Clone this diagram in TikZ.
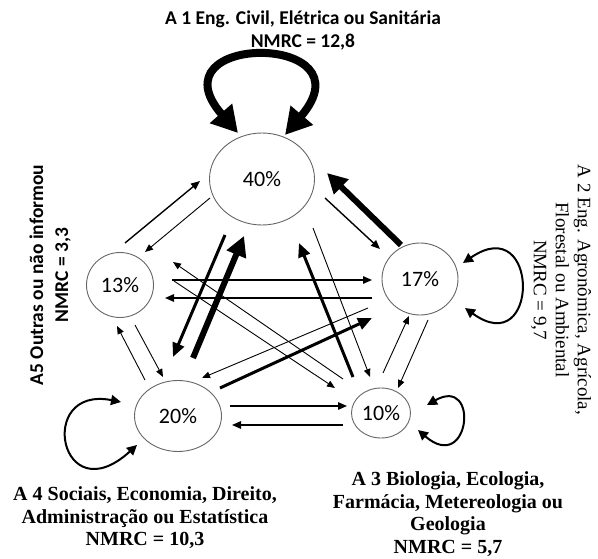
\documentclass[tikz,border=0pt]{standalone}
\usepackage{fontspec}
\usepackage{tikz}
\usetikzlibrary{shapes.geometric, arrows.meta}
\newfontfamily\carlito{Carlito}
\newfontfamily\libserif{Liberation Serif}

\tikzstyle{pct} = [ellipse, draw=black!60, line width=0.9pt, inner sep=0pt, font=\carlito\fontsize{22}{24}\selectfont]
\tikzstyle{areasans} = [align=center, inner sep=0pt, font=\carlito\bfseries\fontsize{19.5}{23}\selectfont]
\tikzstyle{areaserif} = [align=center, inner sep=0pt, font=\libserif\fontsize{19}{22}\selectfont]
\tikzstyle{areaserifb} = [align=center, inner sep=0pt, font=\libserif\bfseries\fontsize{20}{22.5}\selectfont]
\tikzstyle{arrowthin} = [line width=0.9pt, -{Triangle[length=8pt,width=6.5pt]}]
\tikzstyle{arrowmed} = [line width=1.4pt, -{Triangle[length=9pt,width=7.5pt]}]
\tikzstyle{arrowthick} = [line width=3pt, -{Triangle[length=14pt,width=12pt]}]
\tikzstyle{arrowheavy} = [line width=6pt, -{Triangle[length=20pt,width=20pt]}]
\tikzstyle{loopsmall} = [line width=2pt, {Triangle[length=10pt,width=10pt]}-{Triangle[length=10pt,width=10pt]}]
\tikzstyle{loopbig} = [line width=8pt, {Triangle[length=26pt,width=28pt]}-{Triangle[length=26pt,width=28pt]}]

\begin{document}
\begin{tikzpicture}[x=1pt, y=-1pt]
	\useasboundingbox (0,0) rectangle (598,559);

	% areas
	\node (n40) [pct, minimum width=105pt, minimum height=92pt] at (262,179) {40\%};
	\node (n13) [pct, minimum width=67pt, minimum height=65pt] at (120,285) {13\%};
	\node (n17) [pct, minimum width=76pt, minimum height=72pt] at (420,279) {17\%};
	\node (n20) [pct, minimum width=87pt, minimum height=71pt] at (178,416) {20\%};
	\node (n10) [pct, minimum width=59pt, minimum height=50pt] at (381,413) {10\%};

	% captions
	\node (a1) [areasans] at (303,30) {A 1 Eng. Civil, Elétrica ou Sanitária\\NMRC = 12,8};
	\node (a5) [areasans, font=\carlito\bfseries\fontsize{19.5}{25}\selectfont, rotate=90] at (50,275) {A5 Outras ou não informou\\NMRC = 3,3};
	\node (a2) [areaserif, rotate=-90] at (561,290) {A 2 Eng. Agronômica, Agrícola,\\Florestal ou Ambiental\\NMRC = 9,7};
	\node (a4) [areaserifb] at (145,518) {A 4 Sociais, Economia, Direito,\\Administração ou Estatística\\NMRC = 10,3};
	\node (a3) [areaserifb] at (448,514) {A 3 Biologia, Ecologia,\\Farmácia, Metereologia ou\\Geologia\\NMRC = 5,7};

	% self loops
	\draw [loopbig] ([shift={(-24,-46)}]n40.center) .. controls +(-88,-101) and +(88,-103) .. ([shift={(23,-44)}]n40.center);
	\draw [loopsmall] ([shift={(43,-16)}]n17.center) .. controls +(77,-53) and +(75,54) .. ([shift={(45,29)}]n17.center);
	\draw [loopsmall] ([shift={(46,-8)}]n10.center) .. controls +(53,-30) and +(52,45) .. ([shift={(37,17)}]n10.center);
	\draw [loopsmall] ([shift={(-57,-14)}]n20.center) .. controls +(-86,-17) and +(-77,70) .. ([shift={(-41,29)}]n20.center);

	% flows between areas
	\draw [arrowmed] ([shift={(5,-42)}]n13.center) -- ([shift={(-62,2)}]n40.center);
	\draw [arrowthin] ([shift={(-52,19)}]n40.center) -- ([shift={(25,-33)}]n13.center);
	\draw [arrowthick] ([shift={(-37,56)}]n40.center) -- ([shift={(-5,-59)}]n20.center);
	\draw [arrowheavy] ([shift={(15,-58)}]n20.center) -- ([shift={(-18,57)}]n40.center);
	\draw [arrowheavy] ([shift={(-19,-34)}]n17.center) -- ([shift={(65,-6)}]n40.center);
	\draw [arrowmed] ([shift={(63,19)}]n40.center) -- ([shift={(-40,-30)}]n17.center);
	\draw [arrowmed] ([shift={(52,-5)}]n13.center) -- ([shift={(-48,1)}]n17.center);
	\draw [arrowmed] ([shift={(-48,19)}]n17.center) -- ([shift={(45,13)}]n13.center);
	\draw [arrowthin] ([shift={(54,-4)}]n13.center) -- ([shift={(-46,-25)}]n10.center);
	\draw [arrowthin] ([shift={(-38,-34)}]n10.center) -- ([shift={(53,-23)}]n13.center);
	\draw [arrowthin] ([shift={(51,49)}]n40.center) -- ([shift={(-11,-36)}]n10.center);
	\draw [arrowthick] ([shift={(-28,-36)}]n10.center) -- ([shift={(37,64)}]n40.center);
	\draw [arrowthin] ([shift={(-52,29)}]n17.center) -- ([shift={(24,-38)}]n20.center);
	\draw [arrowthick] ([shift={(42,-28)}]n20.center) -- ([shift={(-48,39)}]n17.center);
	\draw [arrowmed] ([shift={(52,-10)}]n20.center) -- ([shift={(-34,-7)}]n10.center);
	\draw [arrowmed] ([shift={(-38,12)}]n10.center) -- ([shift={(54,9)}]n20.center);
	\draw [arrowthin] ([shift={(15,40)}]n13.center) -- ([shift={(-15,-39)}]n20.center);
	\draw [arrowthin] ([shift={(-33,-36)}]n20.center) -- ([shift={(-3,41)}]n13.center);
	\draw [arrowthin] ([shift={(2,-40)}]n10.center) -- ([shift={(-11,37)}]n17.center);
	\draw [arrowthin] ([shift={(8,41)}]n17.center) -- ([shift={(17,-25)}]n10.center);
\end{tikzpicture}
\end{document}
